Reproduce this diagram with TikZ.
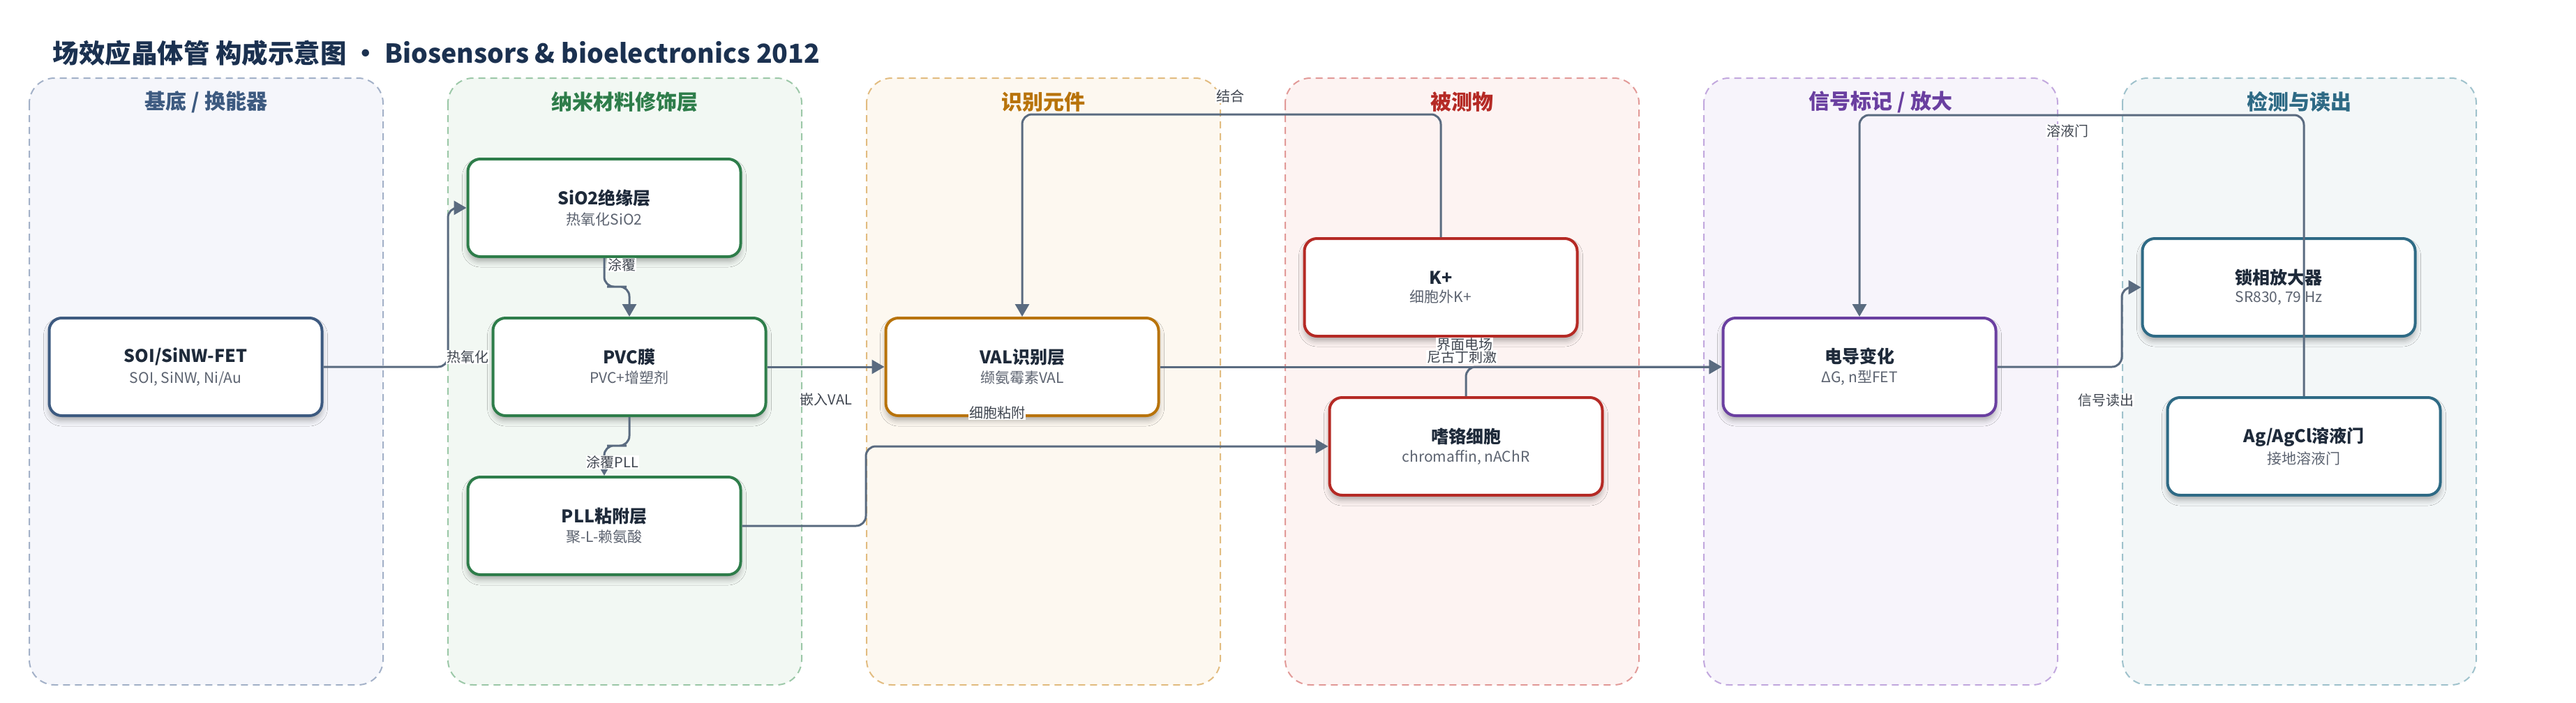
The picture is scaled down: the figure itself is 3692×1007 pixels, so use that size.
\documentclass[tikz,border=0pt]{standalone}
\usepackage{fontspec}
\setmainfont{Noto Sans CJK SC}
\usetikzlibrary{arrows.meta,shadows.blur,calc}
\definecolor{cedge}{HTML}{5A6B80}
\definecolor{clbl}{HTML}{404650}
\definecolor{csub}{HTML}{5C6370}
\definecolor{ctitle}{HTML}{1E2A3A}
\definecolor{chead}{HTML}{1B3150}
\definecolor{fA}{HTML}{F5F6FB}\definecolor{bA}{HTML}{A3B1C8}\definecolor{tA}{HTML}{3D5A80}
\definecolor{fB}{HTML}{F2F8F3}\definecolor{bB}{HTML}{9CC8A8}\definecolor{tB}{HTML}{2E7D4A}
\definecolor{fC}{HTML}{FDF8F0}\definecolor{bC}{HTML}{E2BC80}\definecolor{tC}{HTML}{B8730A}
\definecolor{fD}{HTML}{FDF3F2}\definecolor{bD}{HTML}{E29A98}\definecolor{tD}{HTML}{B52A25}
\definecolor{fE}{HTML}{F7F4FB}\definecolor{bE}{HTML}{C2A8DE}\definecolor{tE}{HTML}{6A3FA0}
\definecolor{fF}{HTML}{F3F7F8}\definecolor{bF}{HTML}{9FC2CC}\definecolor{tF}{HTML}{2E6A85}
\tikzset{
  lane/.style={rounded corners=36pt, line width=2pt, dash pattern=on 10pt off 7pt},
  lanetitle/.style={font=\fontsize{30}{34}\selectfont\bfseries},
  box/.style={draw, fill=white, rounded corners=18pt, line width=4pt,
    minimum width=391pt, minimum height=140pt, align=center,
    blur shadow={shadow xshift=0pt, shadow yshift=-7pt, shadow blur radius=8pt, shadow opacity=30}},
  edge/.style={draw=cedge, line width=3pt, rounded corners=14pt,
    -{Triangle[length=18pt,width=20pt]}},
  lbl/.style={fill=white, inner sep=1pt, text=clbl, font=\fontsize{20}{22}\selectfont}
}
\newcommand{\bx}[2]{{\fontsize{25}{30}\selectfont\bfseries\color{ctitle}#1}\\[7pt]{\fontsize{21}{25}\selectfont\color{csub}#2}}
\begin{document}
\begin{tikzpicture}[x=1pt,y=-1pt]
\useasboundingbox (0,0) rectangle (3692,1007);
% lanes
\draw[lane, fill=fA, draw=bA] (42,112) rectangle (549,982);
\draw[lane, fill=fB, draw=bB] (642,112) rectangle (1149,982);
\draw[lane, fill=fC, draw=bC] (1242,112) rectangle (1749,982);
\draw[lane, fill=fD, draw=bD] (1842,112) rectangle (2349,982);
\draw[lane, fill=fE, draw=bE] (2442,112) rectangle (2949,982);
\draw[lane, fill=fF, draw=bF] (3042,112) rectangle (3549,982);
\node[lanetitle, text=tA] (lt1) at (295.5,146) {基底 / 换能器};
\node[lanetitle, text=tB] (lt2) at (895.5,146) {纳米材料修饰层};
\node[lanetitle, text=tC] (lt3) at (1495.5,146) {识别元件};
\node[lanetitle, text=tD] (lt4) at (2095.5,146) {被测物};
\node[lanetitle, text=tE] (lt5) at (2695.5,146) {信号标记 / 放大};
\node[lanetitle, text=tF] (lt6) at (3295.5,146) {检测与读出};
% title
\node[anchor=west, text=chead, font=\fontsize{37.5}{42}\selectfont\bfseries] (title) at (72,76)
  {场效应晶体管 构成示意图 • Biosensors \& bioelectronics 2012};
% boxes
\node[box, draw=tA] (soi) at (266,526) {\bx{SOI/SiNW-FET}{SOI, SiNW, Ni/Au}};
\node[box, draw=tB] (sio) at (866,298) {\bx{SiO2绝缘层}{热氧化SiO2}};
\node[box, draw=tB] (pvc) at (902,526) {\bx{PVC膜}{PVC+增塑剂}};
\node[box, draw=tB] (pll) at (866,754) {\bx{PLL粘附层}{聚-L-赖氨酸}};
\node[box, draw=tC] (val) at (1465,526) {\bx{VAL识别层}{缬氨霉素VAL}};
\node[box, draw=tD] (kp) at (2065,412) {\bx{K+}{细胞外K+}};
\node[box, draw=tD] (chr) at (2101,640) {\bx{嗜铬细胞}{chromaffin, nAChR}};
\node[box, draw=tE] (gc) at (2665,526) {\bx{电导变化}{ΔG, n型FET}};
\node[box, draw=tF] (lia) at (3266,412) {\bx{锁相放大器}{SR830, 79 Hz}};
\node[box, draw=tF] (ag) at (3302,640) {\bx{Ag/AgCl溶液门}{接地溶液门}};
% bend points
\coordinate (b1) at (642,526);
\coordinate (b2) at (884,411);
\coordinate (b3) at (884,639);
\coordinate (b5) at (1241,700);
\coordinate (b6) at (1760,164);
\coordinate (b9) at (3041,470);
\coordinate (b10) at (2960,165);
% edges
\draw[edge] (soi.east) -- (b1) |- (sio.west);
\draw[edge] (sio.south) |- (b2) -| (pvc.north);
\draw[edge] (pvc.south) |- (b3) -| (pll.north);
\draw[edge] (pvc.east) -- (val.west);
\draw[edge] (pll.east) -| (b5) |- (chr.west);
\draw[edge] (kp.north) |- (b6) -| (val.north);
\draw[edge] (val.east) -- (gc.west);
\draw[edge] (chr.north) |- (gc.west);
\draw[edge] (gc.east) -| (b9) |- (lia.west);
\draw[edge] (ag.north) |- (b10) -| (gc.north);
% labels
\node[lbl] (l1) at (670,512) {热氧化};
\node[lbl] (l2) at (891,380) {涂覆};
\node[lbl] (l3) at (878,663) {涂覆PLL};
\node[lbl] (l4) at (1184,573) {嵌入VAL};
\node[lbl] (l5) at (1429,592) {细胞粘附};
\node[lbl] (l6) at (1763,138) {结合};
\node[lbl] (l8) at (2095,512) {尼古丁刺激};
\node[lbl] (l7) at (2099,494) {界面电场};
\node[lbl] (l9) at (3018,574) {信号读出};
\node[lbl] (l10) at (2963,188) {溶液门};
\end{tikzpicture}
\end{document}
